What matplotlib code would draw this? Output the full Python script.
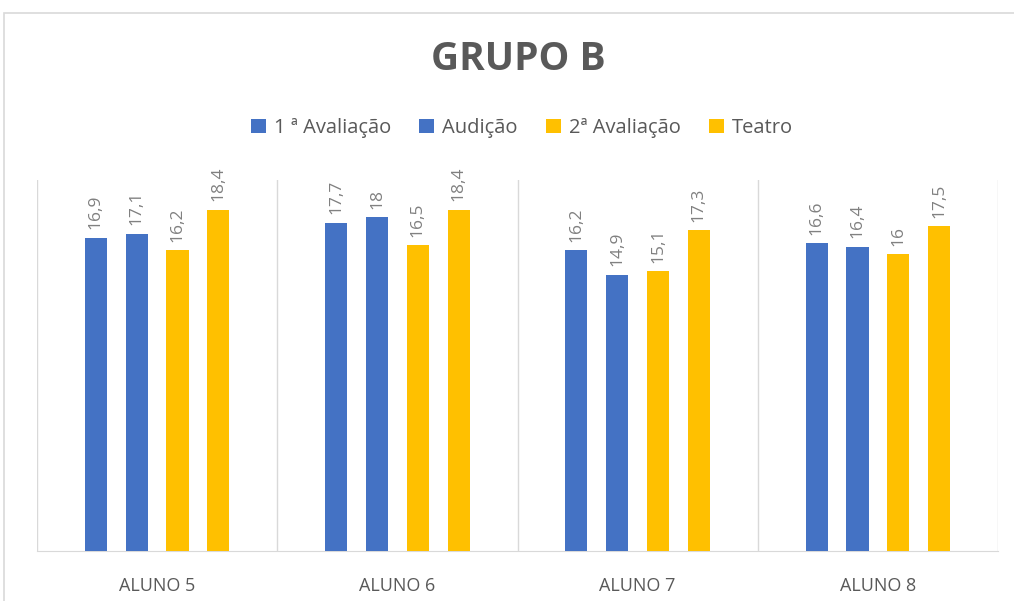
import matplotlib
matplotlib.use("Agg")
import matplotlib.pyplot as plt
import numpy as np
from matplotlib.patches import Rectangle

categories = ["ALUNO 5", "ALUNO 6", "ALUNO 7", "ALUNO 8"]
series_names = ["1 ª Avaliação", "Audição", "2ª Avaliação", "Teatro"]
aval1 = [16.9, 17.7, 16.2, 16.6]
audicao = [17.1, 18.0, 14.9, 16.4]
aval2 = [16.2, 16.5, 15.1, 16.0]
teatro = [18.4, 18.4, 17.3, 17.5]
series = [aval1, audicao, aval2, teatro]
colors = ["#4472C4", "#4472C4", "#FFC000", "#FFC000"]

def fmt(v):
    s = ("%.1f" % v).rstrip("0").rstrip(".")
    return s.replace(".", ",")

plt.rcParams['font.family'] = ['Open Sans', 'DejaVu Sans']

fig = plt.figure(figsize=(10.14, 6.01), dpi=100)
# chart border
fig.patches.append(Rectangle((4/1014, -0.01), 1.1, (601-13)/601 + 0.01,
                             transform=fig.transFigure, fill=False,
                             edgecolor="#d9d9d9", linewidth=1.2))

ax = fig.add_axes([37/1014, 50/601, 961/1014, 371/601])
x = np.arange(len(categories))
width = 0.092
step = 0.17
offsets = (np.arange(4) - 1.5) * step
for i, (vals, c) in enumerate(zip(series, colors)):
    bars = ax.bar(x + offsets[i], vals, width=width, color=c, label=series_names[i], zorder=3)
    for b, v in zip(bars, vals):
        ax.annotate(fmt(v), (b.get_x() + b.get_width()/2, v), xytext=(0, 6),
                    textcoords="offset points", rotation=90, ha="center", va="bottom",
                    fontsize=12.5, color="#808080")

ax.set_xlim(-0.5, 3.5)
ax.set_ylim(0, 20)
ax.set_yticks([])
for s in ["top", "right", "left"]:
    ax.spines[s].set_visible(False)
ax.spines["bottom"].set_color("#d9d9d9")
for b in np.arange(-0.5, 3.6, 1.0):
    ax.axvline(b, color="#d9d9d9", linewidth=1, zorder=1)
ax.set_xticks(x)
ax.set_xticklabels(categories, fontsize=13, color="#595959")
ax.tick_params(axis="x", length=0, pad=19)

fig.text(518/1014, 1 - 60/601, "GRUPO B", ha="center", va="center",
         fontsize=28, fontweight="bold", color="#595959")

handles, labels = ax.get_legend_handles_labels()
fig.legend(handles, labels, loc="center", bbox_to_anchor=(522/1014, 1 - 128/601),
           ncol=4, frameon=False, fontsize=14.5, labelcolor="#595959",
           handlelength=0.75, handleheight=0.75, handletextpad=0.4, columnspacing=1.4)

fig.savefig("out.png", dpi=100)
